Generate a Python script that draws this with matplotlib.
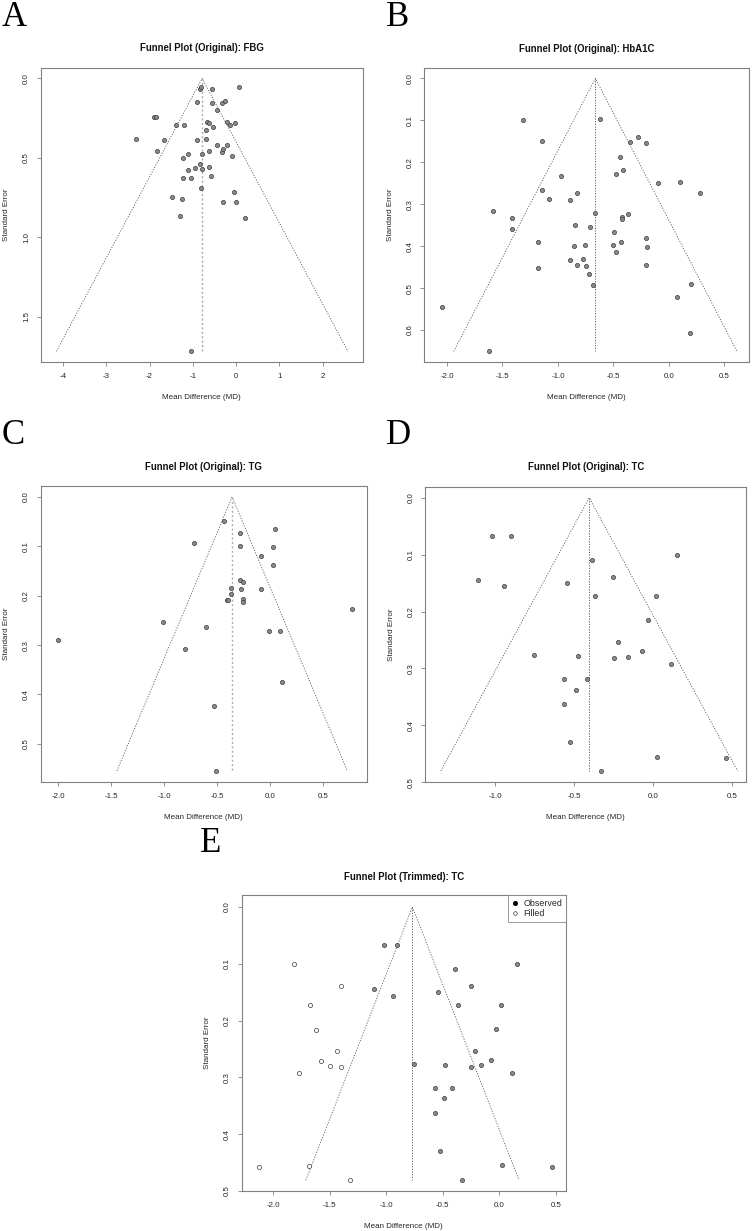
import numpy as np
import matplotlib
matplotlib.use("Agg")
import matplotlib.pyplot as plt
from matplotlib.lines import Line2D

plt.rcParams['font.family'] = ['Liberation Sans', 'DejaVu Sans']
plt.rcParams['axes.unicode_minus'] = False

# ---------------- data ----------------
fbg_md = [-0.846, -0.823, -0.554, 0.069, -0.915, -0.562, -0.331, -0.262, -0.431, -1.908,
          -1.862, -0.669, -0.623, -0.200, -0.138, -0.023, -1.392, -1.200, -0.538, -0.700,
          -2.315, -1.662, -0.908, -0.692, -0.438, -0.208, -1.823, -0.800, -0.631, -0.338,
          -0.292, -0.085, -1.238, -1.123, -0.831, -0.954, -0.623, -1.123, -0.792, -1.238,
          -1.046, -0.585, -0.808, -1.477, -1.254, -0.054, -0.292, 0.008, -1.300, 0.208,
          -1.054]
fbg_se = [0.065, 0.052, 0.067, 0.057, 0.147, 0.157, 0.157, 0.143, 0.197, 0.241,
          0.241, 0.275, 0.279, 0.275, 0.292, 0.281, 0.292, 0.294, 0.308, 0.327,
          0.380, 0.390, 0.390, 0.384, 0.417, 0.422, 0.455, 0.474, 0.457, 0.462,
          0.447, 0.491, 0.499, 0.476, 0.539, 0.562, 0.558, 0.577, 0.573, 0.629,
          0.625, 0.613, 0.688, 0.745, 0.761, 0.717, 0.776, 0.778, 0.868, 0.879,
          1.718]
fbg_est = -0.785

hba1c_md = [-1.312, -0.621, -1.144, -0.278, -0.347, -0.209, -0.443, -0.416, -0.480, -0.975,
            -0.101, 0.100, -1.144, -0.828, 0.278, -1.084, -0.888, -1.585, -0.666, -0.369,
            -0.425, -0.425, -1.417, -1.417, -0.849, -0.714, -0.498, -1.183, -0.209, -0.428,
            -0.501, -0.753, -0.858, -0.200, -0.480, -0.888, -0.771, -0.828, -0.750, -1.183,
            -0.209, -0.720, -0.681, 0.203, 0.076, -2.045, 0.191, -1.624]
hba1c_se = [0.099, 0.097, 0.149, 0.141, 0.152, 0.153, 0.187, 0.219, 0.227, 0.234,
            0.249, 0.246, 0.266, 0.273, 0.273, 0.287, 0.289, 0.316, 0.320, 0.324,
            0.330, 0.335, 0.334, 0.358, 0.350, 0.355, 0.366, 0.390, 0.381, 0.391,
            0.397, 0.397, 0.400, 0.401, 0.414, 0.432, 0.430, 0.444, 0.448, 0.452,
            0.444, 0.467, 0.492, 0.490, 0.521, 0.545, 0.606, 0.651]
hba1c_est = -0.663

tg_md = [-0.437, 0.047, -0.286, -0.717, -0.286, 0.028, -0.085, 0.028, -0.286, -0.252,
         -0.365, -0.277, -0.082, -0.365, -0.406, -0.393, -0.252, -0.252, 0.774, -1.009,
         -0.607, -0.013, 0.097, -2.000, -0.805, 0.110, -0.525, -0.506]
tg_se = [0.048, 0.064, 0.073, 0.093, 0.0985, 0.1005, 0.119, 0.137, 0.169, 0.172,
         0.184, 0.186, 0.186, 0.196, 0.208, 0.209, 0.206, 0.213, 0.227, 0.254,
         0.263, 0.272, 0.271, 0.289, 0.308, 0.374, 0.424, 0.555]
tg_est = -0.358

tc_md = [-1.020, -0.902, 0.154, -0.389, -0.251, -1.109, -0.547, -0.942, -0.370, 0.017,
         -0.034, -0.220, -0.072, -0.754, -0.477, -0.161, -0.249, 0.114, -0.566, -0.418,
         -0.488, -0.566, -0.526, 0.027, 0.461, -0.330]
tc_se = [0.067, 0.067, 0.1007, 0.1095, 0.139, 0.144, 0.150, 0.156, 0.172, 0.172,
         0.215, 0.253, 0.270, 0.276, 0.278, 0.279, 0.282, 0.292, 0.319, 0.319,
         0.337, 0.362, 0.429, 0.455, 0.457, 0.480]
tc_est = -0.404

tc_filled_md = [-1.813, -1.403, -1.672, -1.621, -1.433, -1.580, -1.495, -1.403, -1.772,
                -2.123, -1.680, -1.321]
tc_filled_se = [0.101, 0.139, 0.1725, 0.216, 0.253, 0.2705, 0.280, 0.2817, 0.292,
                0.458, 0.456, 0.481]
tc_trim_est = -0.769

titles = ["Funnel Plot (Original): FBG", "Funnel Plot (Original): HbA1C",
          "Funnel Plot (Original): TG", "Funnel Plot (Original): TC",
          "Funnel Plot (Trimmed): TC"]
panel_letters = ["A", "B", "C", "D", "E"]
xlabel_text = "Mean Difference (MD)"
ylabel_text = "Standard Error"
legend_labels = ["Observed", "Filled"]

# ---------------- layout ----------------
W, H = 752, 1231
fig = plt.figure(figsize=(W / 100, H / 100), dpi=100)

def add_ax(x0, y0, x1, y1):
    return fig.add_axes([x0 / W, 1 - y1 / H, (x1 - x0) / W, (y1 - y0) / H])

boxes = [(40.7, 67.7, 363.0, 362.3), (424.3, 67.7, 748.7, 362.3),
         (40.7, 486.0, 366.7, 782.3), (425.3, 486.7, 746.3, 782.3),
         (241.7, 895.3, 566.0, 1191.0)]
xlims = [(-4.515, 2.931), (-2.204, 0.719), (-2.164, 0.912), (-1.443, 0.592), (-2.279, 0.589)]
ylims = [(1.787, -0.067), (0.677, -0.0254), (0.578, -0.0223), (0.500, -0.0193), (0.500, -0.0205)]
xticks = [np.arange(-4, 2.01, 1), np.arange(-2, 0.51, 0.5), np.arange(-2, 0.51, 0.5),
          np.arange(-1, 0.51, 0.5), np.arange(-2, 0.51, 0.5)]
yticks = [np.arange(0, 1.51, 0.5), np.arange(0, 0.61, 0.1), np.arange(0, 0.51, 0.1),
          np.arange(0, 0.51, 0.1), np.arange(0, 0.51, 0.1)]
xfmt = ["{:.0f}", "{:.1f}", "{:.1f}", "{:.1f}", "{:.1f}"]
letter_pos = [(2, 17), (386, 17), (2, 435), (386, 435), (200, 844)]
title_y = [48.3, 49.0, 466.7, 467.3, 876.7]

datasets = [(fbg_md, fbg_se, fbg_est), (hba1c_md, hba1c_se, hba1c_est),
            (tg_md, tg_se, tg_est), (tc_md, tc_se, tc_est), (tc_md, tc_se, tc_trim_est)]

box_col = '#808080'
text_col = '#262626'
pt_face = '#8a8a8a'
pt_edge = '#3c3c3c'
tick_fs = 5.7
lab_fs = 5.8
title_fs = 6.9
dot_ls = (0, (1.4, 1.8))

for i, (bx, (md, se, est)) in enumerate(zip(boxes, datasets)):
    ax = add_ax(*bx)
    semax = max(se if i < 4 else se + tc_filled_se)
    # funnel
    ax.plot([est - 1.96 * semax, est, est + 1.96 * semax], [semax, 0, semax],
            linestyle=dot_ls, color='#555555', lw=0.6)
    vcol, vlw = ('#a8a8a8', 1.0) if i in (0, 2) else ('#444444', 0.6)
    ax.plot([est, est], [0, semax], linestyle=dot_ls, color=vcol, lw=vlw)
    ax.scatter(md, se, s=9, facecolor=pt_face, edgecolor=pt_edge, linewidths=0.5, zorder=3)
    if i == 4:
        ax.scatter(tc_filled_md, tc_filled_se, s=9, facecolor='white', edgecolor=pt_edge,
                   linewidths=0.5, zorder=3)
        handles = [Line2D([], [], marker='o', ls='none', color='black', markersize=2.6),
                   Line2D([], [], marker='o', ls='none', markerfacecolor='white',
                          markeredgecolor=pt_edge, markeredgewidth=0.5, markersize=2.6)]
        leg = ax.legend(handles, legend_labels, loc='upper right', borderaxespad=0,
                        fontsize=6.4, frameon=True, fancybox=False, handlelength=0.8,
                        handletextpad=0.5, borderpad=0.45, labelspacing=0.1,
                        labelcolor=text_col)
        leg.get_frame().set_edgecolor(box_col)
        leg.get_frame().set_linewidth(0.7)
    ax.set_xlim(*xlims[i])
    ax.set_ylim(*ylims[i])
    ax.set_xticks(xticks[i])
    ax.set_xticklabels([xfmt[i].format(v) if abs(v) > 1e-9 else xfmt[i].format(0.0)
                        for v in xticks[i]])
    ax.set_yticks(yticks[i])
    ax.set_yticklabels(["{:.1f}".format(v) for v in yticks[i]], rotation=90, va='center')
    ax.tick_params(direction='out', length=3.2, width=0.6, color=box_col,
                   labelsize=tick_fs, labelcolor=text_col, pad=4.5)
    for sp in ax.spines.values():
        sp.set_color(box_col)
        sp.set_linewidth(0.8)
    hpx = bx[3] - bx[1]
    wpx = bx[2] - bx[0]
    ax.text(0.5, -35 / hpx, xlabel_text, transform=ax.transAxes, ha='center', va='center',
            fontsize=lab_fs, color=text_col)
    ax.text(-34 / wpx, 0.5, ylabel_text, transform=ax.transAxes, ha='center', va='center',
            rotation=90, fontsize=lab_fs, color=text_col)
    fig.text((bx[0] + bx[2]) / 2 / W, 1 - title_y[i] / H, titles[i], ha='center', va='center',
             fontsize=title_fs, fontweight='bold', color='#111111')
    lx, ly = letter_pos[i]
    fig.text(lx / W, 1 - ly / H, panel_letters[i], ha='left', va='center',
             fontsize=25, family='Liberation Serif', color='black')

fig.savefig("out.png", dpi=100, facecolor='white')
